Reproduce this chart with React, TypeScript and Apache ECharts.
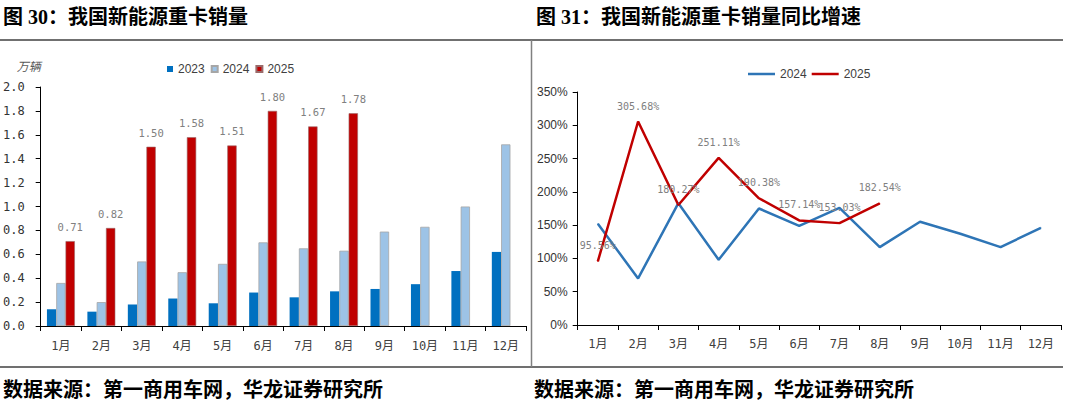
import React, { useEffect, useRef } from "react";
import * as echarts from "echarts";

const months = ["1月", "2月", "3月", "4月", "5月", "6月", "7月", "8月", "9月", "10月", "11月", "12月"];
const sales2023 = [0.14, 0.12, 0.18, 0.23, 0.19, 0.28, 0.24, 0.29, 0.31, 0.35, 0.46, 0.62];
const sales2024 = [0.36, 0.2, 0.54, 0.45, 0.52, 0.7, 0.65, 0.63, 0.79, 0.83, 1.0, 1.52];
const sales2025 = [0.71, 0.82, 1.5, 1.58, 1.51, 1.8, 1.67, 1.78];
const yoy2024 = [152, 70, 183, 98, 175, 149, 176, 117, 155, 137, 117, 146];
const yoy2025 = [95.56, 305.68, 180.27, 251.11, 190.38, 157.14, 153.03, 182.54];

const leftTitle = "图 30：我国新能源重卡销量";
const rightTitle = "图 31：我国新能源重卡销量同比增速";
const sourceText = "数据来源：第一商用车网，华龙证券研究所";
const unitText = "万辆";

const TITLE_FONT = "'Liberation Serif', 'Noto Sans CJK SC', serif";
const MONO_FONT = "'DejaVu Sans Mono', 'Noto Sans CJK SC', monospace";
const SANS_FONT = "'Liberation Sans', Arial, 'Noto Sans CJK SC', sans-serif";

function frameGraphics(titleText: string, titleX: number, footerX: number, lineEnd: number, withVertical: boolean) {
  const g: any[] = [
    {
      type: "text",
      left: titleX,
      top: 7,
      style: { text: titleText, font: `bold 20px ${TITLE_FONT}`, fill: "#000" },
    },
    {
      type: "text",
      left: footerX,
      top: 380,
      style: { text: sourceText, font: `bold 20px ${TITLE_FONT}`, fill: "#000" },
    },
    {
      type: "line",
      shape: { x1: 0, y1: 40, x2: lineEnd, y2: 40 },
      style: { stroke: "#404040", lineWidth: 1.3 },
    },
    {
      type: "line",
      shape: { x1: 0, y1: 367, x2: lineEnd, y2: 367 },
      style: { stroke: "#404040", lineWidth: 1.3 },
    },
  ];
  if (withVertical) {
    g.push({
      type: "line",
      shape: { x1: 531.5, y1: 40, x2: 531.5, y2: 367 },
      style: { stroke: "#808080", lineWidth: 1.5 },
    });
  }
  return g;
}

function LeftChart() {
  const ref = useRef<HTMLDivElement>(null);
  useEffect(() => {
    if (!ref.current) return;
    const chart = echarts.init(ref.current, null, { renderer: "svg" });
    chart.setOption({
      animation: false,
      graphic: frameGraphics(leftTitle, 3, 3, 534, true),
      legend: {
        left: 162,
        top: 58,
        icon: "rect",
        itemWidth: 6,
        itemHeight: 6,
        itemGap: 6,
        textStyle: { fontFamily: SANS_FONT, fontSize: 12, color: "#404040" },
        data: ["2023", "2024", "2025"],
      },
      grid: { left: 39, top: 87, width: 487, height: 239 },
      xAxis: {
        type: "category",
        data: months,
        boundaryGap: true,
        axisLine: { lineStyle: { color: "#000", width: 1 } },
        axisTick: { show: true, length: 5, inside: false, lineStyle: { color: "#000" } },
        axisLabel: { margin: 14, fontFamily: MONO_FONT, fontSize: 12, color: "#404040" },
      },
      yAxis: {
        type: "value",
        min: 0,
        max: 2,
        interval: 0.2,
        name: unitText,
        nameLocation: "end",
        nameGap: 16,
        nameTextStyle: { align: "right", fontFamily: "'Noto Sans CJK SC', sans-serif", fontSize: 12, color: "#595959", fontStyle: "italic" },
        axisLine: { show: true, lineStyle: { color: "#000", width: 1 } },
        axisTick: { show: true, length: 5, lineStyle: { color: "#000" } },
        splitLine: { show: false },
        axisLabel: {
          margin: 16,
          fontFamily: MONO_FONT,
          fontSize: 12,
          color: "#333",
          formatter: (v: number) => v.toFixed(1),
        },
      },
      series: [
        {
          name: "2023",
          type: "bar",
          data: sales2023,
          barGap: "0%",
          barCategoryGap: "31%",
          itemStyle: { color: "#0070C0" },
        },
        {
          name: "2024",
          type: "bar",
          data: sales2024,
          barGap: "0%",
          barCategoryGap: "31%",
          itemStyle: { color: "#9DC3E6", borderColor: "#A6A6A6", borderWidth: 0.8 },
        },
        {
          name: "2025",
          type: "bar",
          data: sales2025,
          barGap: "0%",
          barCategoryGap: "31%",
          itemStyle: { color: "#C00000", borderColor: "#9a6a6a", borderWidth: 0.6 },
          label: {
            show: true,
            position: "top",
            distance: 9,
            fontFamily: MONO_FONT,
            fontSize: 10.5,
            color: "#808080",
            formatter: (p: any) => Number(p.value).toFixed(2),
          },
        },
      ],
    });
    return () => chart.dispose();
  }, []);
  return <div ref={ref} style={{ position: "absolute", left: 0, top: 0, width: 534, height: 408 }} />;
}

function RightChart() {
  const ref = useRef<HTMLDivElement>(null);
  useEffect(() => {
    if (!ref.current) return;
    const chart = echarts.init(ref.current, null, { renderer: "svg" });
    chart.setOption({
      animation: false,
      graphic: frameGraphics(rightTitle, 2, 0, 529, false),
      legend: {
        left: 209,
        top: 63,
        icon: "rect",
        itemWidth: 27,
        itemHeight: 2.5,
        itemGap: 5,
        textStyle: { fontFamily: SANS_FONT, fontSize: 12, color: "#404040" },
        data: ["2024", "2025"],
      },
      grid: { left: 40, top: 92, width: 487, height: 233 },
      xAxis: {
        type: "category",
        data: months,
        boundaryGap: true,
        axisLine: { lineStyle: { color: "#000", width: 1 } },
        axisTick: { show: true, length: 5, lineStyle: { color: "#000" } },
        axisLabel: { margin: 13, fontFamily: MONO_FONT, fontSize: 12, color: "#404040" },
      },
      yAxis: {
        type: "value",
        min: 0,
        max: 350,
        interval: 50,
        axisLine: { show: true, lineStyle: { color: "#000", width: 1 } },
        axisTick: { show: true, length: 5, lineStyle: { color: "#000" } },
        splitLine: { show: false },
        axisLabel: {
          margin: 10,
          fontFamily: "'Liberation Sans Narrow', 'Liberation Sans', Arial, sans-serif",
          fontSize: 12,
          color: "#333",
          formatter: (v: number) => v + "%",
        },
      },
      series: [
        {
          name: "2024",
          type: "line",
          data: yoy2024,
          symbol: "circle",
          symbolSize: 1,
          showSymbol: true,
          lineStyle: { color: "#2E75B6", width: 2.5 },
          itemStyle: { color: "#2E75B6" },
        },
        {
          name: "2025",
          type: "line",
          data: yoy2025,
          symbol: "circle",
          symbolSize: 1,
          showSymbol: true,
          z: 3,
          lineStyle: { color: "#C00000", width: 2.5 },
          itemStyle: { color: "#C00000" },
          label: {
            show: true,
            position: "top",
            distance: 10,
            fontFamily: MONO_FONT,
            fontSize: 10,
            color: "#808080",
            formatter: (p: any) => Number(p.value).toFixed(2) + "%",
          },
        },
      ],
    });
    return () => chart.dispose();
  }, []);
  return <div ref={ref} style={{ position: "absolute", left: 534, top: 0, width: 534, height: 408 }} />;
}

export default function App() {
  return (
    <div style={{ position: "absolute", left: 0, top: 0, width: 1068, height: 408, background: "#fff" }}>
      <LeftChart />
      <RightChart />
    </div>
  );
}
